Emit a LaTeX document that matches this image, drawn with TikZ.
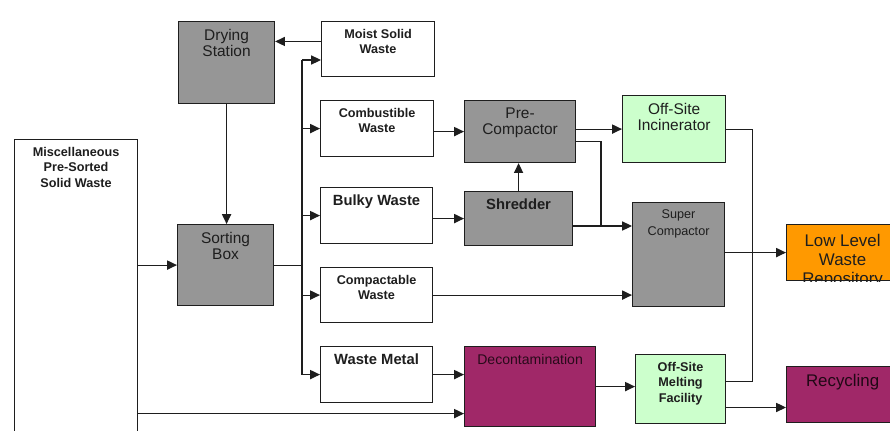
\documentclass[tikz,border=0pt]{standalone}
\usepackage{fontspec}
\setmainfont{Liberation Sans}
\usetikzlibrary{arrows.meta,positioning}
\definecolor{cinzaf}{RGB}{150,150,150}
\definecolor{verdef}{RGB}{204,255,204}
\definecolor{laranjaf}{RGB}{255,153,0}
\definecolor{roxof}{RGB}{160,40,104}
\definecolor{linha}{RGB}{30,30,30}

\begin{document}
\begin{tikzpicture}[
			x=0.025cm, y=-0.025cm,
			caixa/.style={draw=linha, line width=0.8pt, fill=white, anchor=north west, inner sep=0pt},
			cinza/.style={caixa, fill=cinzaf},
			verde/.style={caixa, fill=verdef},
			laranja/.style={caixa, fill=laranjaf},
			roxo/.style={caixa, fill=roxof},
			rot/.style={anchor=north, align=center, inner xsep=2pt, inner ysep=5.5pt, text=linha},
			rb/.style={rot, font=\bfseries\fontsize{9}{11}\selectfont},
			rbg/.style={rot, font=\bfseries\fontsize{10.5}{12}\selectfont},
			rn/.style={rot, font=\fontsize{11}{11.5}\selectfont},
			rg/.style={rot, font=\fontsize{12}{13}\selectfont},
			>={Triangle[length=7pt,width=6.5pt]},
			fl/.style={->, draw=linha, line width=0.8pt},
			ln/.style={draw=linha, line width=0.8pt}
		]

		\useasboundingbox (0,0) rectangle (890,430);
		\clip (0,0) rectangle (890,430);

		\node[caixa, minimum width=3.075cm, minimum height=7.5cm, label={[rb]north:{Miscellaneous\\Pre-Sorted\\Solid Waste}}] (misc) at (14,139) {};
		\node[cinza, minimum width=2.4cm, minimum height=2.05cm, label={[rn]north:{Drying\\Station}}] (dry) at (178,21) {};
		\node[caixa, minimum width=2.825cm, minimum height=1.375cm, label={[rb]north:{Moist Solid\\Waste}}] (moist) at (321,21) {};
		\node[caixa, minimum width=2.825cm, minimum height=1.4cm, label={[rb]north:{Combustible\\Waste}}] (comb) at (320,100) {};
		\node[caixa, minimum width=2.8cm, minimum height=1.4cm, label={[rbg]north:Bulky Waste}] (bulky) at (320,187) {};
		\node[cinza, minimum width=2.4cm, minimum height=2.025cm, label={[rn]north:{Sorting\\Box}}] (sort) at (177,224) {};
		\node[caixa, minimum width=2.8cm, minimum height=1.375cm, label={[rb]north:{Compactable\\Waste}}] (compa) at (320,267) {};
		\node[caixa, minimum width=2.8cm, minimum height=1.4cm, label={[rbg]north:Waste Metal}] (metal) at (320,346) {};
		\node[cinza, minimum width=2.775cm, minimum height=1.55cm, label={[rn]north:{Pre-\\Compactor}}] (precomp) at (464,100) {};
		\node[cinza, minimum width=2.7cm, minimum height=1.35cm, label={[rbg]north:Shredder}] (shred) at (464,191) {};
		\node[verde, minimum width=2.575cm, minimum height=1.675cm, label={[rn]north:{Off-Site\\Incinerator}}] (incin) at (622,95) {};
		\node[cinza, minimum width=2.3cm, minimum height=2.6cm, label={[rot, font=\fontsize{9}{11.5}\selectfont]north:{Super\\Compactor}}] (super) at (632,202) {};
		\node[laranja, minimum width=2.8cm, minimum height=1.4cm] (llw) at (786,224) {};
		\node[roxo, minimum width=3.275cm, minimum height=2cm, label={[rot, font=\fontsize{10}{12}\selectfont, text=black!75!roxof]north:Decontamination}] (decon) at (464,346) {};
		\node[verde, minimum width=2.25cm, minimum height=1.725cm, label={[rb]north:{Off-Site\\Melting\\Facility}}] (melt) at (635,354) {};
		\node[roxo, minimum width=2.8cm, minimum height=1.4cm, label={[rg, text=black!80!roxof]north:Recycling}] (recyc) at (786,366) {};

		\begin{scope}
			\clip (llw.north west) rectangle (llw.south east);
			\node[rot, font=\fontsize{12}{13.5}\selectfont, inner ysep=7pt] (llwtxt) at (llw.north) {Low Level\\Waste\\Repository};
		\end{scope}

		\coordinate (bus) at (302,60);
		\coordinate (jn) at (601,226);

		\draw[fl] ([yshift=0.19cm]moist.west) -- ([yshift=0.19cm]moist.west -| dry.east);
		\draw[fl] (dry.south) -- (dry.south |- sort.north);
		\draw[fl] (sort.west -| misc.east) -- (sort.west);
		\draw[ln] (sort.east) -- (sort.east -| bus);
		\draw[ln] (bus) -- (bus |- metal.west);
		\draw[fl] (bus) -- (bus -| moist.west);
		\draw[fl] (bus |- comb.west) -- (comb.west);
		\draw[fl] (bus |- bulky.west) -- (bulky.west);
		\draw[fl] (bus |- compa.west) -- (compa.west);
		\draw[fl] (bus |- metal.west) -- (metal.west);
		\draw[fl] ([yshift=-0.675cm]decon.west -| misc.east) -- ([yshift=-0.675cm]decon.west);
		\draw[fl] (metal.east) -- (metal.east -| decon.west);
		\draw[fl] (precomp.west -| comb.east) -- (precomp.west);
		\draw[fl] (shred.west -| bulky.east) -- (shred.west);
		\draw[fl] (shred.north) -- (shred.north |- precomp.south);
		\draw[fl] (incin.west -| precomp.east) -- (incin.west);
		\draw[ln] ([yshift=-0.25cm]precomp.east) -| (jn);
		\draw[fl] (jn -| shred.east) -- (jn -| super.west);
		\draw[fl] (compa.east) -- (compa.east -| super.west);
		\draw[fl] (llw.west -| super.east) -- (llw.west);
		\draw[ln] (incin.east) -- ++(26,0) |- ([yshift=0.19cm]melt.east);
		\draw[fl] (decon.east) -- (decon.east -| melt.west);
		\draw[fl] ([yshift=-0.46cm]melt.east) -- ([yshift=-0.46cm]melt.east -| recyc.west);
	\end{tikzpicture}
\end{document}
